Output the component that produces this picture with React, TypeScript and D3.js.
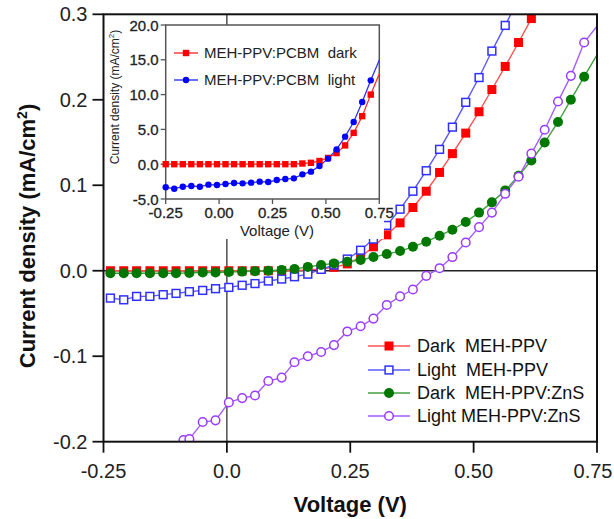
import React from "react";
import * as d3 from "d3";

// ---------- Main plot data ----------
const mainVoltage = [-0.236, -0.209, -0.183, -0.156, -0.129, -0.103, -0.076, -0.049, -0.023, 0.004, 0.031, 0.057, 0.084, 0.111, 0.137, 0.164, 0.191, 0.217, 0.244, 0.271, 0.297, 0.324, 0.351, 0.377, 0.404, 0.431, 0.457, 0.484, 0.511, 0.537, 0.564, 0.591, 0.617, 0.644, 0.671, 0.697, 0.724, 0.777];
const darkMEH = [0.0, 0.0, 0.0, 0.0, 0.0, 0.0, 0.0, 0.0, 0.0, 0.0, 0.0, 0.0, 0.0, 0.0, 0.0, 0.001, 0.002, 0.004, 0.008, 0.016, 0.028, 0.042, 0.056, 0.074, 0.093, 0.115, 0.137, 0.161, 0.186, 0.212, 0.239, 0.267, 0.295, 0.325];
const lightMEH = [-0.032, -0.034, -0.030, -0.030, -0.028, -0.0265, -0.0245, -0.023, -0.021, -0.0195, -0.017, -0.015, -0.012, -0.0097, -0.007, -0.004, 0.0016, 0.0067, 0.0137, 0.024, 0.037, 0.053, 0.072, 0.093, 0.117, 0.142, 0.168, 0.197, 0.226, 0.257, 0.287, 0.318];
const darkZnS = [-0.003, -0.003, -0.003, -0.003, -0.003, -0.003, -0.0025, -0.002, -0.002, -0.0015, -0.001, -0.0005, 0.0, 0.001, 0.002, 0.0045, 0.0067, 0.0086, 0.0105, 0.0125, 0.016, 0.0195, 0.023, 0.028, 0.034, 0.041, 0.048, 0.057, 0.068, 0.080, 0.094, 0.111, 0.129, 0.150, 0.174, 0.200, 0.227, 0.279];
const lightZnSVoltage = [-0.115, -0.088, -0.076, -0.049, -0.023, 0.004, 0.031, 0.057, 0.084, 0.111, 0.137, 0.164, 0.191, 0.217, 0.244, 0.271, 0.297, 0.324, 0.351, 0.377, 0.404, 0.431, 0.457, 0.484, 0.511, 0.537, 0.564, 0.591, 0.617, 0.644, 0.671, 0.697, 0.724, 0.777];
const lightZnS = [-0.215, -0.198, -0.197, -0.177, -0.175, -0.154, -0.149, -0.146, -0.129, -0.125, -0.107, -0.100, -0.095, -0.087, -0.071, -0.065, -0.056, -0.040, -0.030, -0.022, -0.006, 0.003, 0.016, 0.033, 0.051, 0.068, 0.090, 0.110, 0.137, 0.165, 0.198, 0.228, 0.267, 0.306];

const mainXTicks = [-0.25, 0, 0.25, 0.5, 0.75];
const mainXTickLabels = ["-0.25", "0.0", "0.25", "0.50", "0.75"];
const mainYTicks = [-0.2, -0.1, 0, 0.1, 0.2, 0.3];
const mainYTickLabels = ["-0.2", "-0.1", "0.0", "0.1", "0.2", "0.3"];

const legendLabels = ["Dark  MEH-PPV", "Light  MEH-PPV", "Dark  MEH-PPV:ZnS", "Light MEH-PPV:ZnS"];

// ---------- Inset data ----------
const insetVoltage = [-0.25, -0.21, -0.17, -0.13, -0.09, -0.05, -0.01, 0.03, 0.07, 0.11, 0.15, 0.19, 0.23, 0.27, 0.31, 0.35, 0.39, 0.43, 0.47, 0.51, 0.55, 0.59, 0.63, 0.67, 0.71, 0.79];
const insetDark = [0, 0, 0, 0, 0, 0, 0, 0, 0, 0, 0, 0, 0, 0, 0, 0, 0.1, 0.2, 0.46, 0.9, 1.6, 2.7, 4.5, 6.9, 10.0, 16.0];
const insetLight = [-3.32, -3.52, -3.23, -3.13, -3.23, -2.94, -2.99, -2.84, -2.70, -2.75, -2.65, -2.51, -2.56, -2.27, -2.13, -2.03, -1.46, -1.07, -0.26, 0.80, 2.13, 3.96, 6.06, 8.94, 12.05, 17.9];
const insetXTicks = [-0.25, 0, 0.25, 0.5, 0.75];
const insetXTickLabels = ["-0.25", "0.00", "0.25", "0.50", "0.75"];
const insetYTicks = [-5, 0, 5, 10, 15, 20];
const insetYTickLabels = ["-5.0", "0.0", "5.0", "10.0", "15.0", "20.0"];
const insetLegendLabels = ["MEH-PPV:PCBM  dark", "MEH-PPV:PCBM  light"];

const FONT = "'Liberation Sans', Arial, Helvetica, sans-serif";

type Pt = [number, number];
const zip = (xs: number[], ys: number[]): Pt[] => ys.map((y, i) => [xs[i], y] as Pt);

export default function App() {
  const W = 614, H = 519;
  const M = { left: 103.5, right: 597, top: 14.3, bottom: 441.7 };
  const x = d3.scaleLinear().domain([-0.25, 0.75]).range([M.left, M.right]);
  const y = d3.scaleLinear().domain([-0.2, 0.3]).range([M.bottom, M.top]);

  const I = { left: 165.7, right: 379.3, top: 25, bottom: 199 };
  const ix = d3.scaleLinear().domain([-0.25, 0.75]).range([I.left, I.right]);
  const iy = d3.scaleLinear().domain([-5, 20]).range([I.bottom, I.top]);

  const line = d3.line<Pt>().x((d) => x(d[0])).y((d) => y(d[1]));
  const iline = d3.line<Pt>().x((d) => ix(d[0])).y((d) => iy(d[1]));

  const sDarkMEH = zip(mainVoltage, darkMEH);
  const sLightMEH = zip(mainVoltage, lightMEH);
  const sDarkZnS = zip(mainVoltage, darkZnS);
  const sLightZnS = zip(lightZnSVoltage, lightZnS);
  const sIDark = zip(insetVoltage, insetDark);
  const sILight = zip(insetVoltage, insetLight);

  const colors = {
    red: "#ff0000", redLine: "#ff5050",
    blue: "#2f2fff", blueLine: "#5a5aff",
    green: "#007800", greenLine: "#40a040",
    purple: "#9a3cff", purpleLine: "#a65cff",
  };

  const sq = 9;
  const legendRows = [346, 370, 393, 416];

  const renderMarker = (kind: number, cx: number, cy: number, key: string | number) => {
    if (kind === 0) {
      return <rect key={key} x={cx - sq / 2} y={cy - sq / 2} width={sq} height={sq} fill={colors.red} />;
    }
    if (kind === 1) {
      const s = sq - 1.2;
      return <rect key={key} x={cx - s / 2} y={cy - s / 2} width={s} height={s} fill="white" stroke={colors.blue} strokeWidth={1.5} />;
    }
    if (kind === 2) {
      return <circle key={key} cx={cx} cy={cy} r={5} fill={colors.green} />;
    }
    return <circle key={key} cx={cx} cy={cy} r={4.3} fill="white" stroke={colors.purple} strokeWidth={1.5} />;
  };

  const mainSeries = [
    { data: sDarkMEH, line: colors.redLine, kind: 0 },
    { data: sLightMEH, line: colors.blueLine, kind: 1 },
    { data: sDarkZnS, line: colors.greenLine, kind: 2 },
    { data: sLightZnS, line: colors.purpleLine, kind: 3 },
  ];

  return (
    <svg width={W} height={H} style={{ position: "absolute", left: 0, top: 0, background: "white" }} fontFamily={FONT}>
      <defs>
        <clipPath id="mainClip">
          <rect x={M.left} y={M.top} width={M.right - M.left} height={M.bottom - M.top} />
        </clipPath>
        <clipPath id="insetClip">
          <rect x={I.left - 6} y={I.top - 6} width={I.right - I.left + 6} height={I.bottom - I.top + 12} />
        </clipPath>
      </defs>
      <rect x={0} y={0} width={W} height={H} fill="white" />

      {/* zero lines */}
      <line x1={M.left} x2={M.right} y1={y(0)} y2={y(0)} stroke="#222" strokeWidth={1.6} />
      <line x1={x(0)} x2={x(0)} y1={M.top} y2={M.bottom} stroke="#333" strokeWidth={1.3} />

      {/* main series */}
      <g clipPath="url(#mainClip)">
        {mainSeries.map((s, i) => (
          <path key={"l" + i} d={line(s.data) || ""} fill="none" stroke={s.line} strokeWidth={1.4} />
        ))}
        {mainSeries.map((s, i) => (
          <g key={"m" + i}>{s.data.map((d, j) => renderMarker(s.kind, x(d[0]), y(d[1]), j))}</g>
        ))}
      </g>

      {/* frame */}
      <rect x={M.left} y={M.top} width={M.right - M.left} height={M.bottom - M.top} fill="none" stroke="#111" strokeWidth={2} />

      {/* main ticks */}
      {mainYTicks.map((t, i) => (
        <g key={"yt" + i}>
          <line x1={M.left - 11} x2={M.left} y1={y(t)} y2={y(t)} stroke="#111" strokeWidth={1.8} />
          <text x={M.left - 16} y={y(t) + 7} fontSize={20} textAnchor="end" fill="#222">{mainYTickLabels[i]}</text>
        </g>
      ))}
      {mainXTicks.map((t, i) => (
        <g key={"xt" + i}>
          <line x1={x(t)} x2={x(t)} y1={M.bottom} y2={M.bottom + 11} stroke="#111" strokeWidth={1.8} />
          <text x={Math.min(x(t), W - 21)} y={478} fontSize={20} textAnchor="middle" fill="#222">{mainXTickLabels[i]}</text>
        </g>
      ))}

      {/* axis titles */}
      <text x={(M.left + M.right) / 2} y={512} fontSize={22} fontWeight="bold" textAnchor="middle" fill="#111">Voltage (V)</text>
      <text transform={`translate(35, ${(M.top + M.bottom) / 2 + 8}) rotate(-90)`} fontSize={22} fontWeight="bold" textAnchor="middle" fill="#111">
        Current density (mA/cm<tspan fontSize={14} dy={-8}>2</tspan><tspan dy={8}>)</tspan>
      </text>

      {/* legend */}
      {mainSeries.map((s, i) => (
        <g key={"lg" + i}>
          <line x1={368} x2={410} y1={legendRows[i]} y2={legendRows[i]} stroke={s.line} strokeWidth={1.5} />
          {renderMarker(s.kind, 389, legendRows[i], "lm" + i)}
          <text x={417} y={legendRows[i] + 6} fontSize={18} fill="#111" style={{ whiteSpace: "pre" }}>{legendLabels[i]}</text>
        </g>
      ))}

      {/* inset */}
      <rect x={106} y={I.top} width={384 - 106} height={239 - I.top} fill="white" />
      <rect x={I.left} y={I.top} width={I.right - I.left} height={I.bottom - I.top} fill="none" stroke="#555" strokeWidth={1.5} />
      {insetYTicks.map((t, i) => (
        <g key={"iyt" + i}>
          <line x1={I.left - 5} x2={I.left} y1={iy(t)} y2={iy(t)} stroke="#555" strokeWidth={1.3} />
          <text x={I.left - 7} y={iy(t) + 5.5} fontSize={15} textAnchor="end" fill="#222" stroke="#222" strokeWidth={0.3}>{insetYTickLabels[i]}</text>
        </g>
      ))}
      {insetXTicks.map((t, i) => (
        <g key={"ixt" + i}>
          <line x1={ix(t)} x2={ix(t)} y1={I.bottom} y2={I.bottom + 5} stroke="#555" strokeWidth={1.3} />
          <text x={ix(t)} y={218} fontSize={15} textAnchor="middle" fill="#222" stroke="#222" strokeWidth={0.3}>{insetXTickLabels[i]}</text>
        </g>
      ))}
      <text x={277} y={236} fontSize={15} textAnchor="middle" fill="#222">Voltage (V)</text>
      <text transform={`translate(119, 97) rotate(-90)`} fontSize={12} textAnchor="middle" fill="#222">
        Current density (mA/cm<tspan fontSize={8} dy={-5}>2</tspan><tspan dy={5}>)</tspan>
      </text>
      <g clipPath="url(#insetClip)">
        <path d={iline(sIDark) || ""} fill="none" stroke="#ff3030" strokeWidth={1.3} />
        <path d={iline(sILight) || ""} fill="none" stroke="#3030ff" strokeWidth={1.3} />
        {sIDark.map((d, j) => (
          <rect key={"id" + j} x={ix(d[0]) - 3.2} y={iy(d[1]) - 3.2} width={6.4} height={6.4} fill="#ff0000" />
        ))}
        {sILight.map((d, j) => (
          <circle key={"il" + j} cx={ix(d[0])} cy={iy(d[1])} r={3.2} fill="#0000ff" />
        ))}
      </g>
      {/* inset legend */}
      {[0, 1].map((i) => (
        <g key={"ilg" + i}>
          <line x1={174} x2={198} y1={53 + i * 27} y2={53 + i * 27} stroke={i === 0 ? "#ff3030" : "#3030ff"} strokeWidth={1.4} />
          {i === 0 ? (
            <rect x={186 - 3.2} y={53 - 3.2} width={6.4} height={6.4} fill="#ff0000" />
          ) : (
            <circle cx={186} cy={80} r={3.2} fill="#0000ff" />
          )}
          <text x={204} y={53 + i * 27 + 5} fontSize={15} fill="#222" style={{ whiteSpace: "pre" }}>{insetLegendLabels[i]}</text>
        </g>
      ))}
    </svg>
  );
}
